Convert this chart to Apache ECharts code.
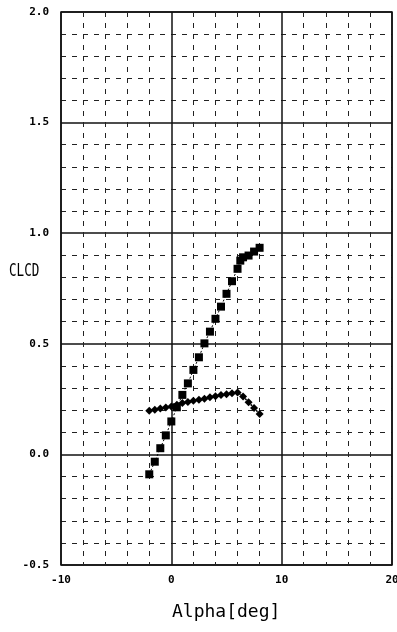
<!DOCTYPE html>
<html>
<head>
<meta charset="utf-8">
<script src="https://cdn.jsdelivr.net/npm/echarts@6/dist/echarts.min.js"></script>
<style>
  html, body { margin: 0; padding: 0; background: #fff; }
  #chart { width: 397px; height: 632px; }
</style>
</head>
<body>
<div id="chart"></div>
<script>
// Lift coefficient polar (square markers)
const clAlpha = [-2, -1.5, -1, -0.5, 0, 0.5, 1, 1.5, 2, 2.5, 3, 3.5, 4, 4.5, 5, 5.5, 6, 6.25, 6.5, 7, 7.5, 8];
const clValues = [-0.09, -0.033, 0.028, 0.086, 0.149, 0.213, 0.269, 0.321, 0.382, 0.439, 0.502, 0.555, 0.613, 0.668, 0.726, 0.783, 0.839, 0.876, 0.891, 0.899, 0.917, 0.934];

// Second polar (small diamond markers)
const cdAlpha = [-2, -1.5, -1, -0.5, 0, 0.5, 1, 1.5, 2, 2.5, 3, 3.5, 4, 4.5, 5, 5.5, 6, 6.5, 7, 7.5, 8];
const cdValues = [0.197, 0.202, 0.207, 0.212, 0.217, 0.225, 0.232, 0.237, 0.242, 0.247, 0.252, 0.258, 0.263, 0.268, 0.272, 0.276, 0.28, 0.262, 0.236, 0.21, 0.183];

// Axis tick labels
const xTickLabels = ['-10', '0', '10', '20'];
const yTickLabels = ['-0.5', '0.0', '0.5', '1.0', '1.5', '2.0'];

const xLabelMap = {};
[-10, 0, 10, 20].forEach((v, i) => { xLabelMap[v] = xTickLabels[i]; });
const yLabelMap = {};
[-0.5, 0, 0.5, 1, 1.5, 2].forEach((v, i) => { yLabelMap[v.toFixed(1)] = yTickLabels[i]; });

const pair = (xs, ys) => xs.map((x, i) => [x, ys[i]]);

const tickFont = {
  color: '#000',
  fontFamily: 'DejaVu Sans Mono',
  fontWeight: 'bold',
  fontSize: 11
};

const chart = echarts.init(document.getElementById('chart'), null, { renderer: 'canvas' });

chart.setOption({
  animation: false,
  backgroundColor: '#fff',
  grid: {
    left: 61, right: 5, top: 12, bottom: 67,
    outerBoundsMode: 'none',
    containLabel: false,
    show: true, borderColor: '#111', borderWidth: 1.5, backgroundColor: 'transparent'
  },
  xAxis: {
    type: 'value', min: -10, max: 20, interval: 10,
    axisLine: { show: false },
    axisTick: { show: false },
    axisLabel: Object.assign({ margin: 10, formatter: v => xLabelMap[v] }, tickFont),
    splitLine: { show: true, lineStyle: { color: '#111', width: 1.5 } },
    minorTick: { show: false, splitNumber: 5 },
    minorSplitLine: { show: true, lineStyle: { color: '#222', width: 1, type: [5, 6] } }
  },
  yAxis: {
    type: 'value', min: -0.5, max: 2, interval: 0.5,
    axisLine: { show: false },
    axisTick: { show: false },
    axisLabel: Object.assign({ margin: 12, formatter: v => yLabelMap[v.toFixed(1)] }, tickFont),
    splitLine: { show: true, lineStyle: { color: '#111', width: 1.5 } },
    minorTick: { show: false, splitNumber: 5 },
    minorSplitLine: { show: true, lineStyle: { color: '#222', width: 1, type: [5, 6] } }
  },
  graphic: [
    {
      type: 'text', x: 9, y: 263,
      style: { text: 'CLCD', fill: '#000', font: '17px "DejaVu Sans Mono"' },
      scaleX: 0.74
    },
    {
      type: 'text', left: 172, top: 603,
      style: { text: 'Alpha[deg]', fill: '#000', font: '18px "DejaVu Sans Mono"' }
    }
  ],
  series: [
    {
      type: 'line',
      data: pair(clAlpha, clValues),
      symbol: 'rect', symbolSize: 8,
      itemStyle: { color: '#000' },
      lineStyle: { color: '#000', width: 1, type: [2, 2] },
      z: 3
    },
    {
      type: 'line',
      data: pair(cdAlpha, cdValues),
      symbol: 'diamond', symbolSize: 8,
      itemStyle: { color: '#000' },
      lineStyle: { color: '#000', width: 1.5, type: [2, 2] },
      z: 3
    }
  ]
});
</script>
</body>
</html>
